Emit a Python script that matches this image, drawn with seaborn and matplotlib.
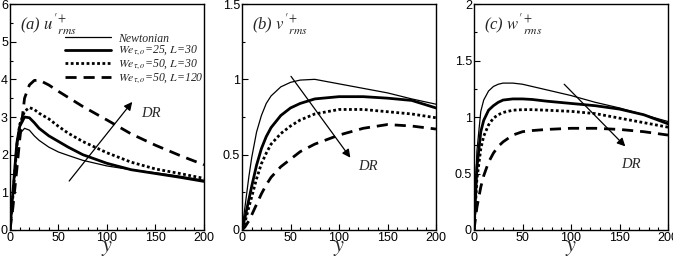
import matplotlib
matplotlib.use("Agg")
import matplotlib.pyplot as plt
from matplotlib.ticker import MultipleLocator, FormatStrFormatter
import seaborn as sns
import pandas as pd

sns.set_theme(style="ticks")
plt.rcParams["font.family"] = ["Liberation Sans", "DejaVu Sans"]
plt.rcParams["mathtext.fontset"] = "stix"

# wall distance y+
y_plus = [0, 3, 7, 10, 15, 20, 25, 30, 40, 50, 60, 75, 100, 125, 150, 175, 200]

series_names = ["Newtonian",
                r"$We_{\tau,o}$=25, $L$=30",
                r"$We_{\tau,o}$=50, $L$=30",
                r"$We_{\tau,o}$=50, $L$=120"]

# (a) u'rms+
u_newt = [0, 1.0, 2.2, 2.55, 2.7, 2.65, 2.5, 2.38, 2.2, 2.07, 1.98, 1.85, 1.7, 1.6, 1.52, 1.43, 1.32]
u_we25 = [0, 1.0, 2.3, 2.75, 3.0, 2.98, 2.85, 2.7, 2.5, 2.35, 2.2, 2.0, 1.77, 1.6, 1.5, 1.4, 1.29]
u_we50 = [0, 0.9, 2.2, 2.8, 3.15, 3.25, 3.2, 3.1, 2.95, 2.75, 2.57, 2.35, 2.05, 1.8, 1.62, 1.5, 1.37]
u_l120 = [0, 0.6, 1.6, 2.4, 3.5, 3.85, 3.97, 3.98, 3.85, 3.68, 3.52, 3.28, 2.92, 2.55, 2.25, 1.98, 1.73]

# (b) v'rms+
v_newt = [0, 0.15, 0.35, 0.48, 0.65, 0.76, 0.84, 0.89, 0.95, 0.98, 0.995, 1.0, 0.97, 0.94, 0.91, 0.87, 0.835]
v_we25 = [0, 0.08, 0.2, 0.29, 0.43, 0.54, 0.62, 0.68, 0.76, 0.81, 0.84, 0.87, 0.885, 0.885, 0.875, 0.86, 0.81]
v_we50 = [0, 0.05, 0.15, 0.22, 0.34, 0.44, 0.51, 0.57, 0.64, 0.69, 0.73, 0.77, 0.80, 0.80, 0.785, 0.77, 0.745]
v_l120 = [0, 0.02, 0.06, 0.1, 0.17, 0.24, 0.3, 0.35, 0.42, 0.47, 0.52, 0.57, 0.63, 0.675, 0.7, 0.69, 0.67]

# (c) w'rms+
w_newt = [0, 0.7, 1.05, 1.15, 1.23, 1.27, 1.29, 1.3, 1.3, 1.29, 1.27, 1.24, 1.19, 1.13, 1.08, 1.02, 0.96]
w_we25 = [0, 0.55, 0.87, 0.97, 1.06, 1.1, 1.13, 1.15, 1.16, 1.16, 1.155, 1.14, 1.12, 1.1, 1.07, 1.02, 0.94]
w_we50 = [0, 0.45, 0.72, 0.83, 0.93, 0.99, 1.02, 1.04, 1.06, 1.065, 1.065, 1.06, 1.05, 1.03, 0.99, 0.95, 0.91]
w_l120 = [0, 0.2, 0.38, 0.48, 0.6, 0.68, 0.74, 0.78, 0.84, 0.87, 0.88, 0.89, 0.9, 0.9, 0.89, 0.87, 0.84]

panel_titles = [r"(a) $u'^{+}_{rms}$", r"(b) $v'^{+}_{rms}$", r"(c) $w'^{+}_{rms}$"]
y_limits = [6, 1.5, 2]
y_major = [1, 0.5, 0.5]
y_minor = [0.5, 0.25, 0.25]

# DR arrows: (tail x, tail y, head x, head y, text x, text y)
arrows = [(61, 1.3, 126, 3.4, 135, 3.1),
          (50.5, 1.02, 111.7, 0.48, 120, 0.42),
          (93, 1.29, 156, 0.74, 152, 0.58)]

panels = [[u_newt, u_we25, u_we50, u_l120],
          [v_newt, v_we25, v_we50, v_l120],
          [w_newt, w_we25, w_we50, w_l120]]

styles = [dict(lw=0.9, ls="-"),
          dict(lw=2.0, ls="-"),
          dict(lw=2.0, ls=(0, (1, 0.9))),
          dict(lw=2.0, ls=(0, (4, 2.5)))]

fig = plt.figure(figsize=(6.73, 2.57), dpi=100)
lefts = [10 / 673, 242 / 673, 474 / 673]
W = 194 / 673
B = 1 - 230 / 257
Hh = 226 / 257

serif = ["Liberation Serif", "DejaVu Serif"]

for i in range(3):
    ax = fig.add_axes([lefts[i], B, W, Hh])
    for j in range(4):
        df = pd.DataFrame({"y": y_plus, "val": panels[i][j]})
        sns.lineplot(data=df, x="y", y="val", ax=ax, color="black",
                     lw=styles[j]["lw"], linestyle=styles[j]["ls"],
                     label=series_names[j] if i == 0 else None, legend=False)
    ax.set_xlim(0, 200)
    ax.set_ylim(0, y_limits[i])
    ax.xaxis.set_major_locator(MultipleLocator(50))
    ax.xaxis.set_minor_locator(MultipleLocator(10))
    ax.yaxis.set_major_locator(MultipleLocator(y_major[i]))
    ax.yaxis.set_minor_locator(MultipleLocator(y_minor[i]))
    ax.xaxis.set_major_formatter(FormatStrFormatter("%g"))
    ax.yaxis.set_major_formatter(FormatStrFormatter("%g"))
    ax.tick_params(which="both", direction="in", labelsize=9, pad=1.5,
                   top=False, right=False, width=0.8, colors="black")
    ax.tick_params(which="major", length=4)
    ax.tick_params(which="minor", length=2.5)
    for s in ax.spines.values():
        s.set_linewidth(1.0)
        s.set_color("black")
    ax.set_ylabel("")
    ax.set_xlabel(r"$y$", fontsize=16, labelpad=-5)
    ax.text(0.05, 0.965, panel_titles[i], transform=ax.transAxes,
            fontsize=12, family=serif, style="italic", va="top", ha="left")
    tx, ty, hx, hy, lx, ly = arrows[i]
    ax.annotate("", xy=(hx, hy), xytext=(tx, ty),
                arrowprops=dict(arrowstyle="-|>", color="black", lw=0.9,
                                mutation_scale=12, shrinkA=0, shrinkB=0))
    ax.text(lx, ly, "DR", fontsize=10.5, family=serif, style="italic",
            va="center", ha="left")
    if i == 0:
        handles, labels = ax.get_legend_handles_labels()
        leg = ax.legend(handles, labels, loc="upper right",
                        bbox_to_anchor=(1.035, 0.905), frameon=False,
                        handlelength=3.9, handletextpad=0.55,
                        labelspacing=-0.05, borderaxespad=0.2,
                        prop={"family": serif, "style": "italic", "size": 8.5})

fig.savefig("out.png", dpi=100)
